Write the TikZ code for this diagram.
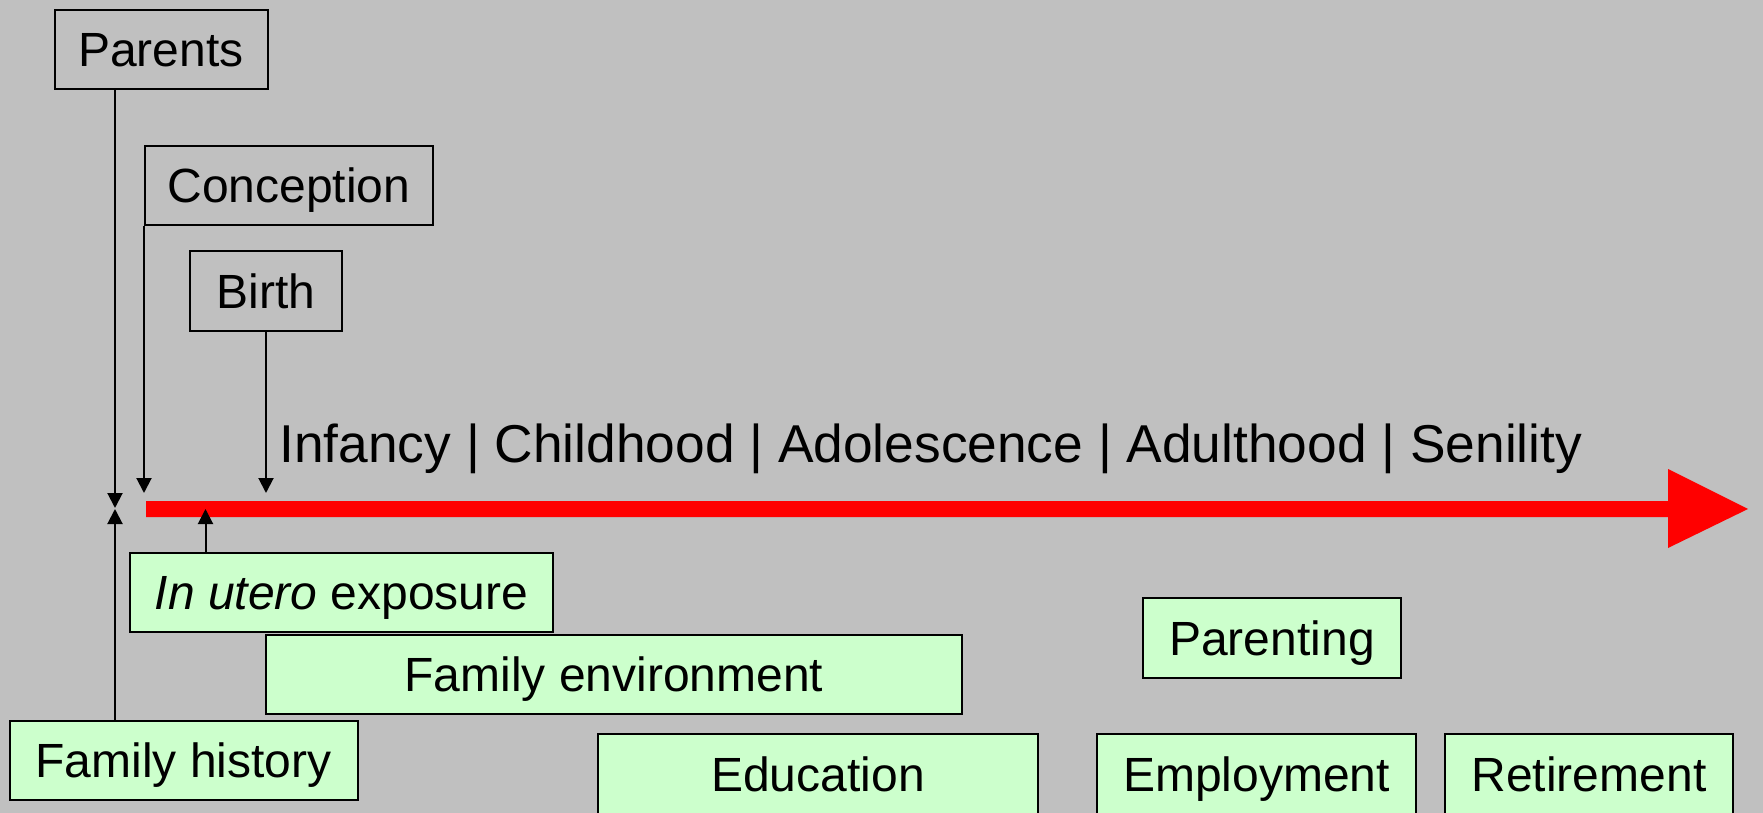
\documentclass[tikz,border=0pt]{standalone}
\usepackage{fontspec}
\setmainfont{Liberation Sans}
\usetikzlibrary{arrows.meta}
\definecolor{panelgray}{HTML}{C0C0C0}
\definecolor{palegreen}{HTML}{CCFFCC}
\definecolor{lifered}{HTML}{FF0000}

\begin{document}
\begin{tikzpicture}[x=0.5pt,y=-0.5pt,
  box/.style={draw=black, line width=1pt, inner sep=0pt,
    text height=17.2pt, text depth=0pt,
    font=\fontsize{24}{28}\selectfont},
  eventbox/.style={box},
  factor/.style={box, fill=palegreen},
  link/.style={draw=black, line width=1pt,
    -{Triangle[length=7.5pt,width=7.5pt]}},
]
% canvas
\fill[panelgray] (0,0) rectangle (1763,813);
\useasboundingbox (0,0) rectangle (1763,813);

% life course arrow
\coordinate (lifeStart) at (146,509);
\coordinate (lifeEnd) at (1748,509);
\fill[lifered] (lifeStart |- 0,501) -- (1668,501) -- (1668,469) -- (lifeEnd)
  -- (1668,548) -- (1668,517) -- (lifeStart |- 0,517) -- cycle;

\node[anchor=base west, inner sep=0pt, font=\fontsize{26.65}{32}\selectfont]
  (stages) at (279,462) {Infancy | Childhood | Adolescence | Adulthood | Senility};

% events above the line
\node[eventbox, minimum width=106.5pt, minimum height=39.5pt] (parents) at (161,49.5) {Parents};
\node[eventbox, minimum width=144pt, minimum height=39.5pt] (concep) at (289,185.5) {Conception};
\node[eventbox, minimum width=76pt, minimum height=40pt] (birth) at (266,291) {Birth};

% influences below the line
\node[factor, minimum width=211.5pt, minimum height=39.5pt] (utero) at (341.5,592.5) {\textit{In utero} exposure};
\node[factor, minimum width=348pt, minimum height=39.5pt] (famenv) at (614,674.5) {Family environment};
\node[factor, minimum width=174pt, minimum height=39.5pt] (famhist) at (183.5,760.5) {Family history};
\node[factor, minimum width=220pt, minimum height=40.5pt] (educ) at (818,774.5) {Education};
\node[factor, minimum width=129pt, minimum height=40pt] (parenting) at (1272,638) {Parenting};
\node[factor, minimum width=159.5pt, minimum height=40.5pt] (employ) at (1256.5,774.5) {Employment};
\node[factor, minimum width=144pt, minimum height=40.5pt] (retire) at (1589,774.5) {Retirement};

% connectors
\coordinate (parentsT) at (115,508);
\coordinate (histT) at (115,509);
\coordinate (concepT) at (145,493);
\coordinate (birthT) at (266,493);
\coordinate (uteroT) at (205.5,509);

\draw[link] (parents.south -| parentsT) -- (parentsT);
\draw[link] (famhist.north -| histT) -- (histT);
\draw[link] (concep.south west) -- (concep.south west |- concepT);
\draw[link] (birth.south) -- (birthT);
\draw[link] (utero.north -| uteroT) -- (uteroT);
\end{tikzpicture}
\end{document}
